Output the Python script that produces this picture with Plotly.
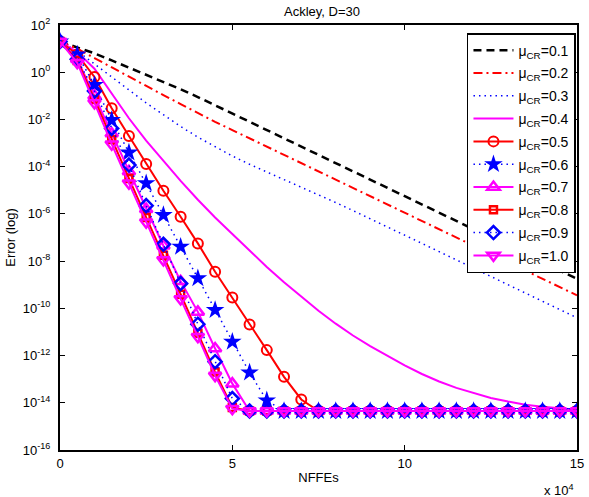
import plotly.graph_objects as go

# NFFEs sampled every 5000 evaluations
nffes = [0, 5000, 10000, 15000, 20000, 25000, 30000, 35000, 40000, 45000, 50000,
         55000, 60000, 65000, 70000, 75000, 80000, 85000, 90000, 95000, 100000,
         105000, 110000, 115000, 120000, 125000, 130000, 135000, 140000, 145000, 150000]

# log10(error)
cr01 = [1.3, 1.05, 0.8, 0.5, 0.2, -0.1, -0.4, -0.72, -1.05, -1.4, -1.75, -2.1, -2.45, -2.8, -3.15, -3.5,
        -3.85, -4.2, -4.55, -4.9, -5.25, -5.6, -5.95, -6.3, -6.65, -7.0, -7.35, -7.7, -8.05, -8.4, -8.75]
cr02 = [1.3, 1.0, 0.6, 0.2, -0.2, -0.58, -0.97, -1.35, -1.73, -2.1, -2.45, -2.8, -3.15, -3.5, -3.85, -4.2,
        -4.55, -4.9, -5.25, -5.6, -5.95, -6.3, -6.65, -7.0, -7.35, -7.7, -8.05, -8.4, -8.75, -9.1, -9.45]
cr03 = [1.3, 0.9, 0.35, -0.2, -0.75, -1.3, -1.8, -2.3, -2.75, -3.15, -3.55, -3.9, -4.22, -4.55, -4.87, -5.2,
        -5.52, -5.86, -6.2, -6.55, -6.9, -7.25, -7.6, -7.95, -8.3, -8.65, -9.0, -9.35, -9.7, -10.05, -10.4]
cr04 = [1.3, 0.85, 0.15, -0.9, -1.95, -2.9, -3.75, -4.6, -5.4, -6.15, -6.85, -7.55, -8.25, -8.9, -9.5, -10.1,
        -10.65, -11.15, -11.6, -12.02, -12.42, -12.78, -13.1, -13.37, -13.6, -13.8, -13.95, -14.08, -14.17, -14.24, -14.3]
cr05 = [1.3, 0.75, -0.2, -1.53, -2.7, -3.89, -5.02, -6.12, -7.25, -8.45, -9.54, -10.68, -11.77, -12.9, -13.86,
        -14.35, -14.35, -14.35, -14.35, -14.35, -14.35, -14.35, -14.35, -14.35, -14.35, -14.35, -14.35, -14.35,
        -14.35, -14.35, -14.35]
cr06 = [1.3, 0.75, -0.54, -2.03, -3.4, -4.7, -6.05, -7.39, -8.73, -10.07, -11.42, -12.72, -13.9,
        -14.35, -14.35, -14.35, -14.35, -14.35, -14.35, -14.35, -14.35, -14.35, -14.35, -14.35, -14.35, -14.35,
        -14.35, -14.35, -14.35, -14.35, -14.35]
cr07 = [1.3, 0.55, -1.0, -2.6, -4.2, -5.8, -7.35, -8.85, -10.15, -11.7, -13.19,
        -14.35, -14.35, -14.35, -14.35, -14.35, -14.35, -14.35, -14.35, -14.35, -14.35, -14.35, -14.35, -14.35,
        -14.35, -14.35, -14.35, -14.35, -14.35, -14.35, -14.35]
cr08 = [1.3, 0.5, -1.15, -2.85, -4.5, -6.15, -7.75, -9.4, -11.05, -12.7, -14.2,
        -14.35, -14.35, -14.35, -14.35, -14.35, -14.35, -14.35, -14.35, -14.35, -14.35, -14.35, -14.35, -14.35,
        -14.35, -14.35, -14.35, -14.35, -14.35, -14.35, -14.35]
cr09 = [1.3, 0.55, -0.8, -2.38, -3.93, -5.65, -7.29, -8.95, -10.67, -12.26, -13.82,
        -14.35, -14.35, -14.35, -14.35, -14.35, -14.35, -14.35, -14.35, -14.35, -14.35, -14.35, -14.35, -14.35,
        -14.35, -14.35, -14.35, -14.35, -14.35, -14.35, -14.35]
cr10 = [1.3, 0.4, -1.3, -3.05, -4.7, -6.35, -7.95, -9.6, -11.2, -12.85, -14.25,
        -14.35, -14.35, -14.35, -14.35, -14.35, -14.35, -14.35, -14.35, -14.35, -14.35, -14.35, -14.35, -14.35,
        -14.35, -14.35, -14.35, -14.35, -14.35, -14.35, -14.35]

labels = ["0.1", "0.2", "0.3", "0.4", "0.5", "0.6", "0.7", "0.8", "0.9", "1.0"]
ytickvals_exp = [2, 0, -2, -4, -6, -8, -10, -12, -14, -16]
xtickvals = [0, 50000, 100000, 150000]
xticktext = ["0", "5", "10", "15"]

series = [cr01, cr02, cr03, cr04, cr05, cr06, cr07, cr08, cr09, cr10]
styles = [
    dict(color="black", dash="8px,5px", width=2.5, symbol=None),
    dict(color="red", dash="9px,4px,2px,4px", width=2, symbol=None),
    dict(color="blue", dash="1.5px,4px", width=1.5, symbol=None),
    dict(color="magenta", dash="solid", width=2, symbol=None),
    dict(color="red", dash="solid", width=2, symbol="circle-open", size=10, mlw=2),
    dict(color="blue", dash="1.5px,4px", width=1.5, symbol="star", size=14, mlw=0),
    dict(color="magenta", dash="solid", width=2, symbol="triangle-up-open", size=11, mlw=2.5),
    dict(color="red", dash="solid", width=2, symbol="square-open", size=7, mlw=2.5),
    dict(color="blue", dash="1.5px,4px", width=1.5, symbol="diamond-open", size=10, mlw=2.5),
    dict(color="magenta", dash="solid", width=2, symbol="triangle-down-open", size=11, mlw=2.5),
]

fig = go.Figure()
for i, (lab, vals, st) in enumerate(zip(labels, series, styles)):
    y = [10 ** v for v in vals]
    kw = dict(x=nffes, y=y, name="\u03bc<sub>CR</sub>=" + lab, legendgroup="g%d" % i,
              line=dict(color=st["color"], dash=st["dash"], width=st["width"]))
    if st["symbol"] is None:
        kw["mode"] = "lines"
    else:
        kw["mode"] = "lines+markers"
        kw["marker"] = dict(symbol=st["symbol"], size=st["size"], color=st["color"],
                            line=dict(color=st["color"], width=st["mlw"]))
    fig.add_trace(go.Scatter(**kw))

font = "Liberation Sans, Arial, sans-serif"
fig.update_layout(
    width=589, height=497,
    margin=dict(l=60, r=5, t=25, b=47),
    paper_bgcolor="white", plot_bgcolor="white",
    font=dict(family=font, size=13, color="black"),
    title=dict(text="Ackley, D=30", x=(60 + 584) / 2 / 589, xanchor="center",
               y=1 - 11 / 497, yanchor="middle", font=dict(size=13)),
    showlegend=True,
    legend=dict(x=0.998, xanchor="right", y=0.981, yanchor="top",
                bgcolor="white", bordercolor="black", borderwidth=1.5,
                font=dict(size=14), tracegroupgap=1.6, itemwidth=40),
)
fig.update_xaxes(range=[0, 150000], tickvals=xtickvals, ticktext=xticktext,
                 ticks="inside", ticklen=5, tickcolor="black", tickwidth=1,
                 showline=True, linecolor="black", linewidth=2, mirror="ticks",
                 showgrid=False, zeroline=False, ticklabeloverflow="allow",
                 title=dict(text="NFFEs", standoff=3, font=dict(size=13)))
fig.update_yaxes(type="log", range=[-16, 2],
                 tickvals=[10 ** e for e in ytickvals_exp],
                 ticktext=["10<sup>%d</sup>" % e for e in ytickvals_exp],
                 ticks="inside", ticklen=5, tickcolor="black", tickwidth=1,
                 showline=True, linecolor="black", linewidth=2, mirror="ticks",
                 showgrid=False, zeroline=False, ticklabelstandoff=5,
                 title=dict(text="Error (log)", standoff=4, font=dict(size=13)))
fig.add_annotation(text="x 10<sup>4</sup>", xref="paper", yref="paper",
                   x=(583 - 60) / 524, y=-(490 - 450) / 425, xanchor="right", yanchor="middle",
                   showarrow=False, font=dict(size=13))

fig.write_html("out.html")
